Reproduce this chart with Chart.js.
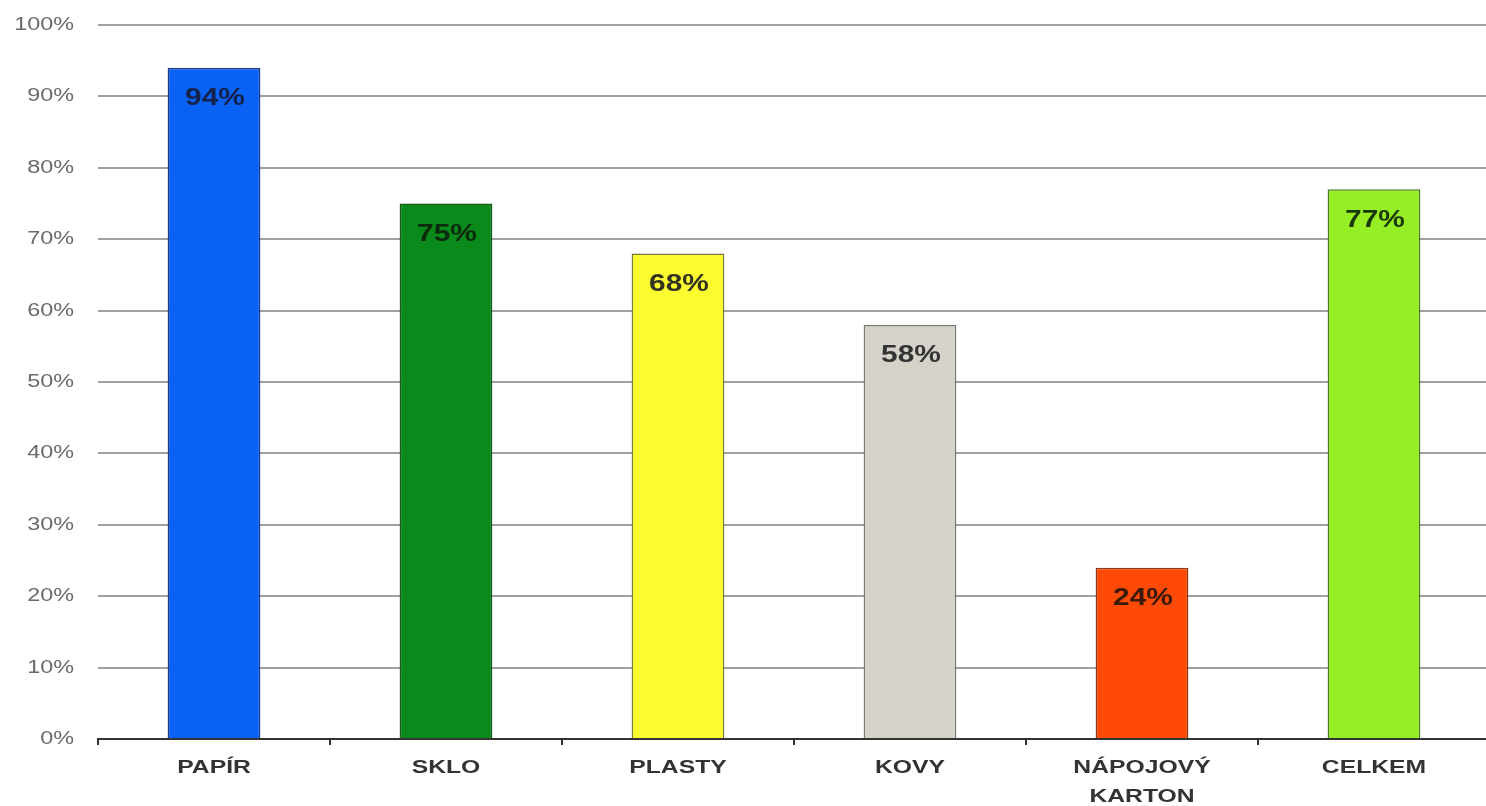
<!DOCTYPE html>
<html>
<head>
<meta charset="utf-8">
<script src="https://cdn.jsdelivr.net/npm/chart.js@4/dist/chart.umd.min.js"></script>
<style>
html,body{margin:0;padding:0;background:#fff;overflow:hidden;}
#wrap{position:relative;width:1492px;height:806px;}
</style>
</head>
<body>
<div id="wrap"><canvas id="c"></canvas></div>
<script>
const categories = [["PAPÍR"], ["SKLO"], ["PLASTY"], ["KOVY"], ["NÁPOJOVÝ", "KARTON"], ["CELKEM"]];
const values = [94, 75, 68, 58, 24, 77];
const valueLabels = ["94%", "75%", "68%", "58%", "24%", "77%"];
const yTickLabels = ["0%", "10%", "20%", "30%", "40%", "50%", "60%", "70%", "80%", "90%", "100%"];
const barColors = ["#0a62f5", "#0b8a1c", "#fbfb30", "#d5d2ca", "#ff4a05", "#96ee25"];
const barBorders = ["#1f3f80", "#1d5a1d", "#7a7a3a", "#7a7a70", "#8a3a1a", "#4a7a2a"];
const labelColors = ["#14224a", "#0c2a0c", "#333322", "#333333", "#3a1a0a", "#1a3a0a"];

const STRETCH = 1.3;
const FONT = '"Liberation Sans", Arial, sans-serif';

function stretchedText(ctx, text, x, y, align) {
  ctx.save();
  ctx.translate(x, y);
  ctx.scale(STRETCH, 1);
  ctx.textAlign = align;
  ctx.textBaseline = 'middle';
  ctx.fillText(text, 0, 0);
  ctx.restore();
}

const textPlugin = {
  id: 'stretchedLabels',
  afterDraw(chart) {
    const ctx = chart.ctx;
    const xs = chart.scales.x, ys = chart.scales.y;
    ctx.save();
    ctx.font = '18px ' + FONT;
    ctx.fillStyle = '#6a6a6a';
    ys.ticks.forEach((t, i) => {
      stretchedText(ctx, yTickLabels[i], 74, ys.getPixelForValue(t.value), 'right');
    });
    ctx.font = 'bold 19px ' + FONT;
    ctx.fillStyle = '#333333';
    categories.forEach((lines, i) => {
      const x = xs.getPixelForValue(i);
      lines.forEach((ln, j) => {
        stretchedText(ctx, ln, x, xs.bottom - 67 + 29 + j * 29, 'center');
      });
    });
    ctx.font = 'bold 23px ' + FONT;
    const meta = chart.getDatasetMeta(0);
    meta.data.forEach((bar, i) => {
      ctx.fillStyle = labelColors[i];
      stretchedText(ctx, valueLabels[i], bar.x + 1, bar.y + 31, 'center');
    });
    ctx.restore();
  }
};

new Chart(document.getElementById('c'), {
  type: 'bar',
  data: {
    labels: categories,
    datasets: [{
      data: values,
      backgroundColor: barColors,
      borderColor: barBorders,
      borderWidth: 1.5,
      categoryPercentage: 1,
      barPercentage: 0.4
    }]
  },
  options: {
    responsive: true,
    maintainAspectRatio: false,
    animation: false,
    layout: { padding: { top: 25, right: 2, bottom: 0, left: 0 } },
    plugins: { legend: { display: false }, tooltip: { enabled: false } },
    scales: {
      x: {
        afterFit(scale) { scale.height = 67; },
        grid: { offset: true, drawOnChartArea: false, drawTicks: true, tickLength: 6, color: '#333', lineWidth: 2 },
        border: { display: true, color: '#333', width: 2 },
        ticks: { display: false, autoSkip: false }
      },
      y: {
        min: 0, max: 100,
        afterFit(scale) { scale.width = 98; },
        grid: { color: '#a0a0a0', lineWidth: 2, drawTicks: false },
        border: { display: false },
        ticks: { display: false, stepSize: 10 }
      }
    }
  },
  plugins: [textPlugin]
});
</script>
</body>
</html>
